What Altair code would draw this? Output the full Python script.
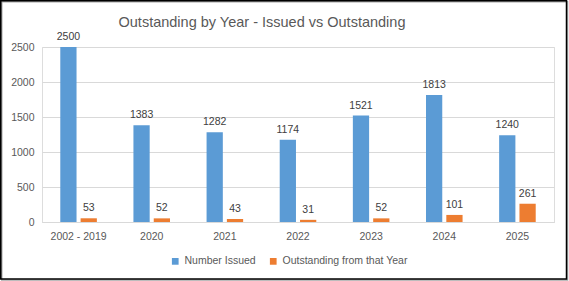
import altair as alt
import pandas as pd

years = ["2002 - 2019", "2020", "2021", "2022", "2023", "2024", "2025"]
issued = [2500, 1383, 1282, 1174, 1521, 1813, 1240]
outstanding = [53, 52, 43, 31, 52, 101, 261]
series = ["Number Issued", "Outstanding from that Year"]
colors = ["#5B9BD5", "#ED7D31"]
y_ticks = [0, 500, 1000, 1500, 2000, 2500]
title_text = "Outstanding by Year - Issued vs Outstanding"

rows = []
for yr, a, b in zip(years, issued, outstanding):
    rows.append({"year": yr, "series": series[0], "value": a})
    rows.append({"year": yr, "series": series[1], "value": b})
df = pd.DataFrame(rows)

FONT = "Liberation Sans"
TXT = "#595959"

x = alt.X("year:N", sort=years,
          scale=alt.Scale(paddingInner=0.5, paddingOuter=0.25),
          axis=alt.Axis(title=None, labelAngle=0, ticks=False, domain=True,
                        domainColor="#D9D9D9", labelPadding=9, labelColor=TXT,
                        labelFontSize=10.5, labelFont=FONT))
xo = alt.XOffset("series:N", sort=series, scale=alt.Scale(paddingInner=0.2))
y = alt.Y("value:Q", scale=alt.Scale(domain=[0, 2500], nice=False),
          axis=alt.Axis(title=None, values=y_ticks, ticks=False, domain=False,
                        format="d", gridColor="#D9D9D9", labelPadding=8,
                        labelColor=TXT, labelFontSize=10.5, labelFont=FONT))
color = alt.Color("series:N", sort=series,
                  scale=alt.Scale(domain=series, range=colors),
                  legend=alt.Legend(title=None, orient="none", legendX=128, legendY=209,
                                    direction="horizontal", symbolType="square",
                                    symbolSize=45, labelFontSize=10.5, labelColor=TXT,
                                    labelFont=FONT, columnPadding=12,
                                    symbolStrokeWidth=0))

base = alt.Chart(df).encode(x=x, xOffset=xo, y=y)
bars = base.mark_bar().encode(color=color)
labels = base.mark_text(dy=-5, baseline="bottom", fontSize=10.5, color="#404040",
                        font=FONT).encode(text="value:Q")

title_df = pd.DataFrame({"t": [title_text]})
title = alt.Chart(title_df).mark_text(fontSize=14.5, color=TXT, font=FONT,
                                      baseline="alphabetic", align="center").encode(
    text="t:N", x=alt.value(262 - 42), y=alt.value(27 - 47))

frame_df = pd.DataFrame({"k": [0]})
shadow = alt.Chart(frame_df).mark_rect(fill="transparent", stroke="#A6A6A6",
                                       strokeWidth=1.5).encode(
    x=alt.value(-40.25), x2=alt.value(567.5 - 42),
    y=alt.value(-45.25), y2=alt.value(280 - 47))
frame = alt.Chart(frame_df).mark_rect(fill="transparent", stroke="black",
                                      strokeWidth=1.5).encode(
    x=alt.value(-41.25), x2=alt.value(566.5 - 42),
    y=alt.value(-46.25), y2=alt.value(279 - 47))

chart = alt.layer(bars, labels, title, shadow, frame).properties(
    width=512, height=175,
    padding={"left": 42, "top": 47, "right": 15, "bottom": 59},
    autosize="none",
).configure_view(stroke=None).configure(background="white")

chart.save("out.html", embed_options={"renderer": "svg", "actions": False})
